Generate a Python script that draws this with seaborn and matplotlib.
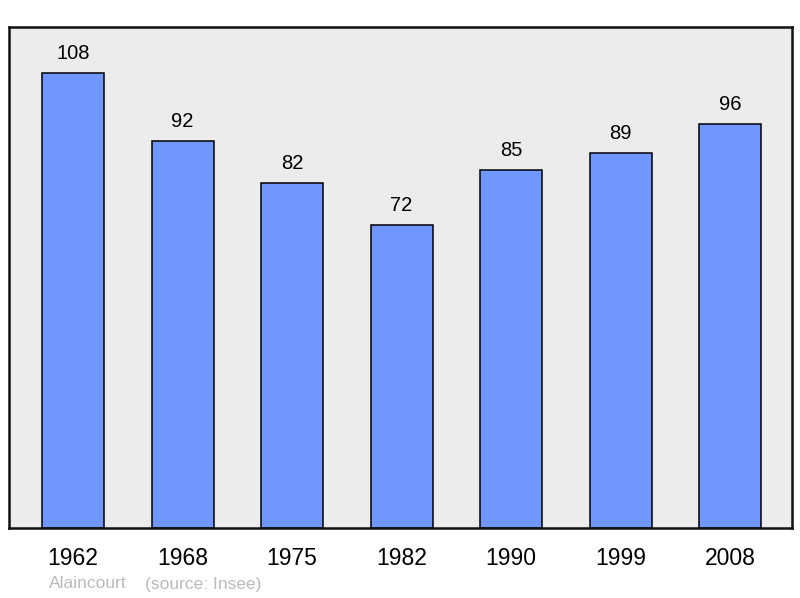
import matplotlib
matplotlib.use("Agg")
import matplotlib.pyplot as plt
import seaborn as sns
import pandas as pd

years = ["1962", "1968", "1975", "1982", "1990", "1999", "2008"]
population = [108, 92, 82, 72, 85, 89, 96]
commune = "Alaincourt"
source = "(source: Insee)"

sns.set_style("white")
plt.rcParams['font.family'] = ['Liberation Sans', 'DejaVu Sans']

df = pd.DataFrame({"year": years, "pop": population})

fig = plt.figure(figsize=(8, 5.98), dpi=100)
ax = fig.add_axes([9 / 800, 70 / 598, 783 / 800, 501 / 598])
ax.set_facecolor("#ececec")

sns.barplot(data=df, x="year", y="pop", color="#7097ff", saturation=1,
            width=0.566, edgecolor="black", linewidth=1.1, ax=ax)

for i, v in enumerate(population):
    ax.text(i, v + 4.6, str(v), ha="center", va="center", fontsize=14.5, color="black")

ax.set_xlim(-0.585, 6.565)
ax.set_ylim(0, 119)
ax.set_yticks([])
ax.set_xlabel("")
ax.set_ylabel("")
ax.tick_params(axis="x", length=0, labelsize=16.5, pad=13.5, labelcolor="black")
for s in ax.spines.values():
    s.set_visible(True)
    s.set_linewidth(1.8)
    s.set_color("#111111")

fig.text(49 / 800, 1 - 584 / 598, commune, color="#bbbbbb", fontsize=12.5, va="center")
fig.text(145 / 800, 1 - 584 / 598, source, color="#bbbbbb", fontsize=12.5, va="center")

fig.savefig("out.png", dpi=100)
